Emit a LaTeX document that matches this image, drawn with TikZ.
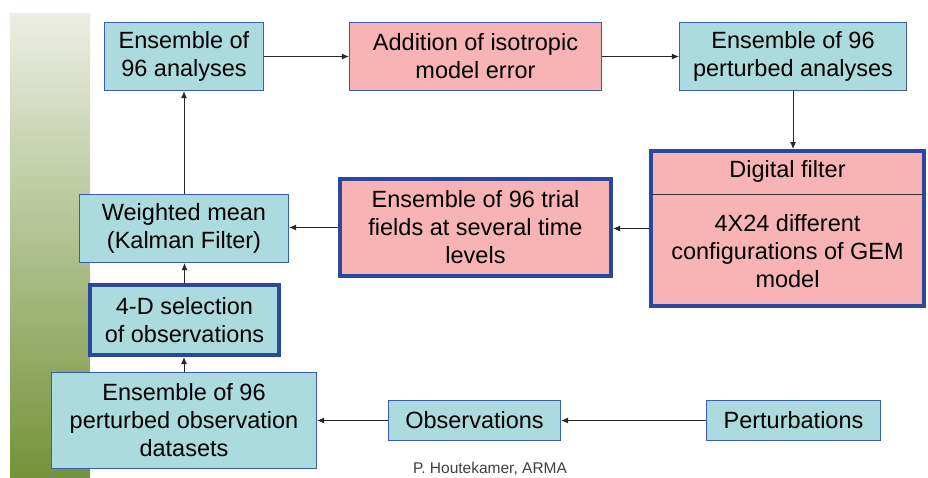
\documentclass[tikz,border=0pt]{standalone}
\usepackage{fontspec}
\setmainfont{Liberation Sans}
\usetikzlibrary{arrows.meta}
\definecolor{cyanfill}{HTML}{ABDBDF}
\definecolor{pinkfill}{HTML}{F8B4B4}
\definecolor{thinblue}{HTML}{3A5CB8}
\definecolor{thickblue}{HTML}{2C479E}
\definecolor{bartop}{HTML}{ECEEE3}
\definecolor{barbot}{HTML}{74933A}
\tikzset{
  box/.style={rectangle, align=center, inner sep=0pt, font=\fontsize{23.5}{28}\selectfont, text=black},
  cyanbox/.style={box, fill=cyanfill, draw=thinblue, line width=1.2pt},
  pinkbox/.style={box, fill=pinkfill, draw=thinblue, line width=1.2pt},
  thickbox/.style={draw=thickblue, line width=4pt},
  txt/.style={align=center, inner sep=0pt, font=\fontsize{23.5}{28}\selectfont},
  conn/.style={draw=black!85, line width=1pt, -{Latex[length=7pt,width=6pt]}},
}
\begin{document}
\begin{tikzpicture}[x=1pt,y=-1pt]
\useasboundingbox (0,0) rectangle (928,477);
\fill[top color=bartop, bottom color=barbot] (10,13) rectangle (90,477);

\node[cyanbox, minimum width=159, minimum height=68] (a1) at (184,56.5) {Ensemble of\\96 analyses};
\node[pinkbox, minimum width=252, minimum height=68] (a2) at (475.5,56.5) {Addition of isotropic\\model error};
\node[cyanbox, minimum width=227, minimum height=68] (a3) at (793,56.5) {Ensemble of 96\\perturbed analyses};

\node[pinkbox, thickbox, minimum width=273, minimum height=155] (df) at (787.5,228.5) {};
\coordinate (dfl) at (651,194);
\coordinate (dfr) at (924,194);
\draw[black!80, line width=1pt] (dfl) -- (dfr);
\node[txt] (dft) at (787.5,171.5) {Digital filter};
\node[txt] (dfb) at (787.5,251) {4X24 different\\configurations of GEM\\model};

\node[pinkbox, thickbox, minimum width=271, minimum height=97] (tf) at (475.5,227.5) {Ensemble of 96 trial\\fields at several time\\levels};
\node[cyanbox, minimum width=209, minimum height=68] (wm) at (184,228.5) {Weighted mean\\(Kalman Filter)};
\node[cyanbox, thickbox, minimum width=189, minimum height=70] (sel) at (184.5,320) {4-D selection\\of observations};
\node[cyanbox, minimum width=265, minimum height=96] (pod) at (184,420.5) {Ensemble of 96\\perturbed observation\\datasets};
\node[cyanbox, minimum width=172, minimum height=40] (obs) at (474.5,420.5) {Observations};
\node[cyanbox, minimum width=174, minimum height=40] (per) at (793.5,420.5) {Perturbations};

\node[font=\fontsize{15.5}{18}\selectfont, text=black!75, inner sep=0pt] (foot) at (490,469) {P. Houtekamer, ARMA};

\draw[conn] (a1.east) -- (a2.west);
\draw[conn] (a2.east) -- (a3.west);
\draw[conn] (a3.south) -- (a3.south |- df.north);
\draw[conn] (df.west) -- (df.west -| tf.east);
\draw[conn] (tf.west) -- (tf.west -| wm.east);
\draw[conn] (wm.north) -- (a1.south);
\draw[conn] (sel.north) -- (sel.north |- wm.south);
\draw[conn] (pod.north) -- (pod.north |- sel.south);
\draw[conn] (obs.west) -- (obs.west -| pod.east);
\draw[conn] (per.west) -- (obs.east);
\end{tikzpicture}
\end{document}
